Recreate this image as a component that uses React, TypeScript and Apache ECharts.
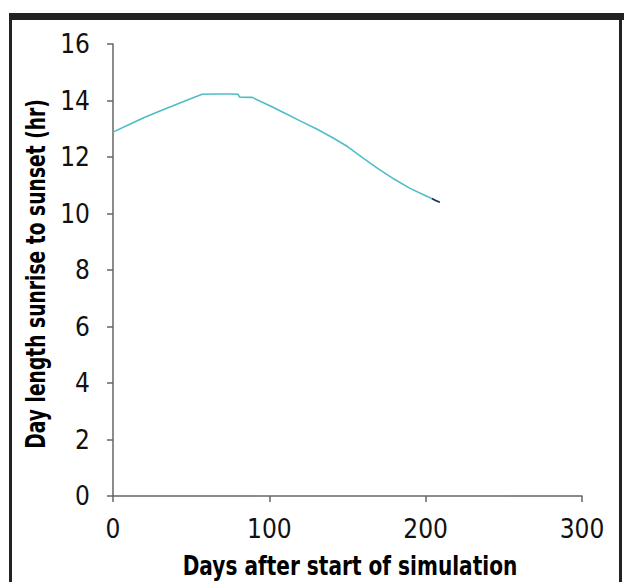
import React, { useEffect, useRef } from "react";
import * as echarts from "echarts";

const days = [0, 10, 20, 30, 40, 50, 57, 65, 75, 80, 81, 89, 100, 110, 120, 130, 140, 150, 160, 170, 180, 190, 200, 205, 209];
const dayLength = [12.88, 13.14, 13.4, 13.63, 13.85, 14.07, 14.22, 14.23, 14.23, 14.22, 14.12, 14.11, 13.82, 13.55, 13.27, 13.0, 12.7, 12.37, 11.96, 11.57, 11.21, 10.89, 10.63, 10.5, 10.4];
const endDays = [204, 206, 209];
const endLength = [10.53, 10.47, 10.4];
const xTicks = [0, 100, 200, 300];
const yTicks = [0, 2, 4, 6, 8, 10, 12, 14, 16];
const xTitle = "Days after start of simulation";
const yTitle = "Day length sunrise to sunset (hr)";

export default function App() {
  const ref = useRef<HTMLDivElement>(null);
  useEffect(() => {
    if (!ref.current) return;
    const chart = echarts.init(ref.current, null, { renderer: "svg" });
    const labelFont = "'DejaVu Sans Condensed', 'DejaVu Sans', sans-serif";
    chart.setOption({
      animation: false,
      backgroundColor: "#ffffff",
      grid: { left: 113, top: 44, width: 469, height: 452, containLabel: false },
      xAxis: {
        type: "value",
        min: xTicks[0],
        max: xTicks[xTicks.length - 1],
        interval: 100,
        axisLine: { show: true, lineStyle: { color: "#666", width: 1.5 } },
        axisTick: { show: true, length: 6, lineStyle: { color: "#666", width: 1.5 } },
        axisLabel: { margin: 20, fontSize: 26, color: "#111", fontFamily: labelFont },
        splitLine: { show: false },
      },
      yAxis: {
        type: "value",
        min: yTicks[0],
        max: yTicks[yTicks.length - 1],
        interval: 2,
        axisLine: { show: true, lineStyle: { color: "#666", width: 1.5 } },
        axisTick: { show: true, length: 6, lineStyle: { color: "#666", width: 1.5 } },
        axisLabel: { margin: 23, fontSize: 26, color: "#111", fontFamily: labelFont },
        splitLine: { show: false },
      },
      series: [
        {
          type: "line",
          data: days.map((d, i) => [d, dayLength[i]]),
          showSymbol: false,
          lineStyle: { color: "#4fbdc8", width: 1.6 },
          z: 2,
        },
        {
          type: "line",
          data: endDays.map((d, i) => [d, endLength[i]]),
          showSymbol: false,
          lineStyle: { color: "#2a2f66", width: 1.6 },
          z: 3,
        },
      ],
      graphic: [
        { type: "rect", shape: { x: 9, y: 13, width: 615, height: 7 }, style: { fill: "#222" }, silent: true },
        { type: "rect", shape: { x: 9, y: 13, width: 3, height: 569 }, style: { fill: "#222" }, silent: true },
        { type: "rect", shape: { x: 619, y: 13, width: 3, height: 569 }, style: { fill: "#222" }, silent: true },
        {
          type: "text",
          x: 350,
          y: 566,
          scaleX: 0.745,
          style: {
            text: xTitle,
            fontSize: 27,
            fontWeight: "bold",
            fontFamily: "'DejaVu Sans', sans-serif",
            fill: "#000",
            align: "center",
            verticalAlign: "middle",
          },
        },
        {
          type: "text",
          x: 36,
          y: 274,
          rotation: Math.PI / 2,
          scaleX: 0.72,
          style: {
            text: yTitle,
            fontSize: 26,
            fontWeight: "bold",
            fontFamily: "'DejaVu Sans', sans-serif",
            fill: "#000",
            align: "center",
            verticalAlign: "middle",
          },
        },
      ],
    });
    return () => chart.dispose();
  }, []);
  return (
    <div
      ref={ref}
      style={{ position: "absolute", left: 0, top: 0, width: 624, height: 582 }}
    />
  );
}
